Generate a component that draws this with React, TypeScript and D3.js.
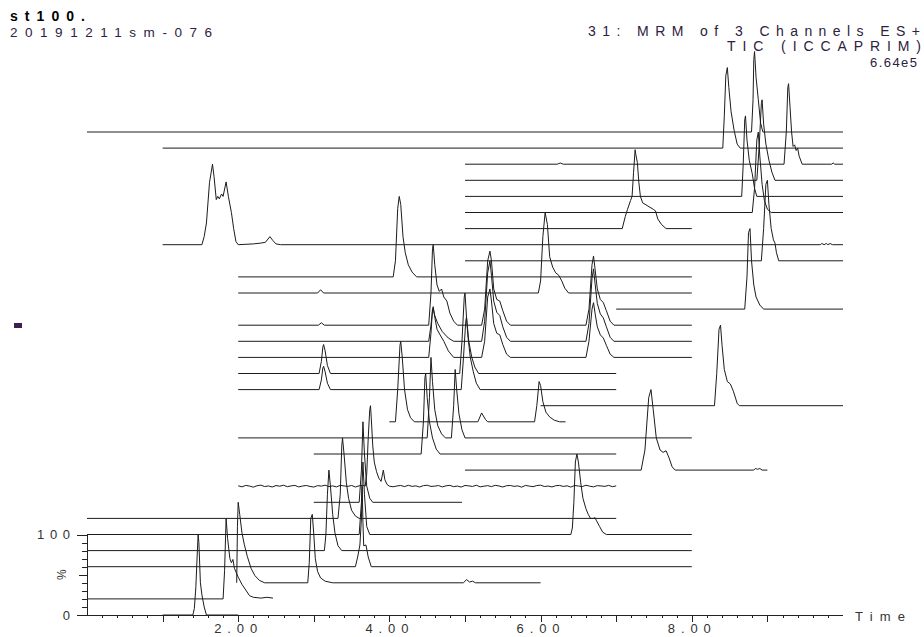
import React from "react";
import * as d3 from "d3";

type Pt = [number, number];

// Plot frame (time in minutes, intensity in %)
const timeDomain: [number, number] = [0, 10];
const channelStep = 20; // each stacked channel sits 20 % above the previous one
const timeLabels = [2, 4, 6, 8];
const yLabels: [number, string][] = [[0, "0"], [100, "100"]];

// Channel traces, bottom (0) to top (30): [time, % of channel maximum]
const tr00: Pt[] = [[1.0, 0], [1.40, 0], [1.42, 8], [1.44, 35], [1.46, 80], [1.47, 100], [1.48, 90], [1.50, 40], [1.52, 25], [1.55, 10], [1.58, 0], [2.0, 0]];
const tr01: Pt[] = [[0, 0], [1.80, 0], [1.82, 35], [1.84, 100], [1.86, 75], [1.89, 50], [1.91, 45], [1.93, 49], [1.95, 38], [2.0, 27], [2.05, 18], [2.1, 11], [2.15, 4], [2.2, 2], [2.3, 1], [2.38, 2], [2.46, 1]];
const tr02: Pt[] = [[1.98, 0], [1.99, 70], [2.0, 100], [2.02, 85], [2.05, 62], [2.08, 48], [2.12, 33], [2.17, 18], [2.22, 9], [2.28, 3], [2.35, 0], [2.92, 0], [2.94, 25], [2.96, 80], [2.98, 85], [3.0, 60], [3.02, 30], [3.05, 14], [3.09, 6], [3.15, 2], [3.25, 0], [4.98, 0], [5.02, 4], [5.06, 1], [5.1, 2], [5.14, 0], [6.0, 0]];
const tr03: Pt[] = [[0, 0], [3.55, 0], [3.58, 12], [3.61, 27], [3.63, 60], [3.64, 100], [3.65, 55], [3.66, 26], [3.69, 27], [3.72, 12], [3.76, 0], [8.0, 0]];
const tr04: Pt[] = [[0, 0], [3.14, 0], [3.16, 20], [3.18, 70], [3.20, 100], [3.22, 80], [3.25, 45], [3.28, 22], [3.32, 6], [3.37, 0], [8.0, 0]];
const tr05: Pt[] = [[0, 0], [3.60, 0], [3.63, 40], [3.65, 90], [3.67, 50], [3.70, 10], [3.74, 0], [6.40, 0], [6.42, 8], [6.44, 40], [6.46, 90], [6.48, 100], [6.50, 90], [6.53, 65], [6.56, 45], [6.60, 32], [6.63, 25], [6.66, 20], [6.70, 20], [6.72, 21], [6.74, 17], [6.78, 10], [6.82, 3], [6.87, 0], [8.0, 0]];
const tr06: Pt[] = [[0, 0], [3.32, 0], [3.35, 30], [3.37, 90], [3.38, 100], [3.40, 80], [3.43, 45], [3.46, 25], [3.50, 10], [3.55, 3], [3.60, 0], [7.0, 0]];
const tr07: Pt[] = [[3.0, 0], [3.60, 0], [3.63, 40], [3.65, 100], [3.67, 60], [3.70, 20], [3.74, 5], [3.78, 0], [4.96, 0]];
const noise08: number[] = [0.5, -0.8, 1.0, 0.2, -1.2, 0.6, 1.3, -0.4, 0.3, -1.0, 0.8, 0.0, 1.2, -0.6, 0.4, 1.0, -0.9, 0.2, 0.9, -0.3, -1.1, 0.7, 0.1, 1.3, -0.5, 0.4, -0.9, 1.1, 0.3, -0.2, 0.9, -1.0, 0.5, 1.2, -0.4, 0.0, 0.8, -1.2, 0.6, 0.2, 1.0, -0.7, 0.3, 0.9, -0.5, 1.1, -0.2, 0.4, -1.0, 0.7, 1.2, -0.3, 0.1, 0.8, -0.9, 0.5, 1.0, -0.6, 0.2, -1.1, 0.9, 0.4, -0.3, 1.2, -0.8, 0.0, 0.7, -0.5, 1.1, 0.3, -1.0, 0.6, 0.9, -0.2, 0.4, -1.2, 1.0, 0.1, -0.6, 0.8, 1.3, -0.4, 0.2, -0.9, 0.6, 1.0, -0.3, 0.5, -1.1, 0.9, 0.2, -0.5, 1.2, 0.0, -0.8, 0.7, 0.3, -0.2, 1.0, -0.6, 0.4];
const peak08: Pt[] = [[3.68, 0], [3.70, 15], [3.72, 60], [3.74, 95], [3.75, 100], [3.76, 85], [3.78, 50], [3.80, 30], [3.83, 18], [3.86, 10], [3.89, 6], [3.92, 20], [3.94, 8], [3.97, 2], [4.0, 0]];
const tr09: Pt[] = [[5.0, 0], [7.33, 0], [7.38, 25], [7.43, 90], [7.46, 100], [7.49, 75], [7.53, 40], [7.58, 25], [7.62, 22], [7.66, 24], [7.70, 15], [7.74, 4], [7.78, 0], [8.82, 0], [8.84, 2], [8.87, 1], [8.9, 2], [8.93, 0], [9.0, 0]];
const tr10: Pt[] = [[3.0, 0], [4.42, 0], [4.45, 40], [4.47, 95], [4.48, 100], [4.50, 70], [4.53, 40], [4.57, 20], [4.62, 6], [4.67, 0], [7.0, 0]];
const tr11: Pt[] = [[2.0, 0], [4.50, 0], [4.53, 50], [4.55, 100], [4.57, 70], [4.60, 35], [4.64, 15], [4.69, 5], [4.74, 0], [4.82, 0], [4.85, 40], [4.87, 85], [4.89, 60], [4.92, 30], [4.96, 10], [5.0, 0], [8.0, 0]];
const tr12: Pt[] = [[4.0, 0], [4.08, 0], [4.11, 40], [4.14, 95], [4.15, 100], [4.17, 80], [4.20, 40], [4.24, 15], [4.28, 5], [4.33, 0], [5.17, 0], [5.22, 11], [5.27, 3], [5.30, 0], [5.92, 0], [5.95, 20], [5.98, 50], [6.0, 45], [6.03, 25], [6.07, 12], [6.12, 6], [6.18, 2], [6.25, 0], [6.33, 0]];
const tr13: Pt[] = [[6.0, 0], [8.30, 0], [8.33, 40], [8.36, 95], [8.38, 100], [8.40, 75], [8.43, 45], [8.47, 30], [8.51, 27], [8.55, 18], [8.60, 3], [8.63, 0], [10, 0]];
const tr14: Pt[] = [[2.0, 0], [3.07, 0], [3.10, 12], [3.12, 27], [3.13, 29], [3.15, 22], [3.18, 8], [3.22, 0], [4.95, 0], [4.98, 40], [5.01, 85], [5.02, 90], [5.04, 65], [5.07, 40], [5.11, 22], [5.15, 8], [5.20, 0], [7.0, 0]];
const tr15: Pt[] = [[2.0, 0], [3.07, 0], [3.10, 15], [3.12, 33], [3.13, 36], [3.15, 28], [3.18, 10], [3.22, 0], [4.93, 0], [4.96, 40], [4.99, 95], [5.0, 100], [5.02, 70], [5.05, 40], [5.09, 20], [5.13, 8], [5.18, 0], [7.0, 0]];
const tr16: Pt[] = [[2.0, 0], [4.52, 0], [4.55, 30], [4.57, 60], [4.58, 63], [4.60, 50], [4.63, 35], [4.67, 28], [4.72, 20], [4.78, 8], [4.85, 0], [5.22, 0], [5.26, 20], [5.30, 75], [5.33, 85], [5.35, 70], [5.38, 42], [5.42, 30], [5.46, 28], [5.50, 16], [5.55, 4], [5.60, 0], [6.60, 0], [6.64, 20], [6.68, 60], [6.70, 68], [6.72, 55], [6.75, 38], [6.79, 28], [6.83, 24], [6.87, 15], [6.92, 4], [6.97, 0], [8.0, 0]];
const tr17: Pt[] = [[2.0, 0], [4.52, 0], [4.55, 20], [4.57, 38], [4.58, 40], [4.60, 32], [4.64, 22], [4.70, 12], [4.78, 4], [4.85, 0], [5.22, 0], [5.26, 25], [5.30, 85], [5.33, 100], [5.35, 82], [5.38, 50], [5.42, 36], [5.46, 32], [5.50, 18], [5.55, 5], [5.60, 0], [6.60, 0], [6.64, 22], [6.68, 78], [6.70, 90], [6.72, 72], [6.75, 47], [6.79, 34], [6.83, 29], [6.87, 18], [6.92, 5], [6.97, 0], [8.0, 0]];
const tr18: Pt[] = [[2.0, 0], [3.06, 0], [3.10, 3], [3.14, 0], [4.52, 0], [4.55, 40], [4.57, 95], [4.58, 100], [4.60, 75], [4.63, 50], [4.66, 42], [4.69, 45], [4.72, 35], [4.76, 30], [4.80, 15], [4.85, 5], [4.90, 0], [5.22, 0], [5.26, 20], [5.30, 80], [5.33, 92], [5.35, 80], [5.38, 45], [5.42, 32], [5.46, 30], [5.50, 18], [5.55, 5], [5.60, 0], [6.60, 0], [6.64, 20], [6.68, 75], [6.70, 86], [6.72, 70], [6.75, 45], [6.79, 32], [6.83, 28], [6.87, 18], [6.92, 5], [6.97, 0], [8.0, 0]];
const tr19: Pt[] = [[7.0, 0], [8.70, 0], [8.73, 40], [8.75, 95], [8.77, 100], [8.79, 60], [8.82, 30], [8.85, 15], [8.90, 5], [8.95, 0], [10, 0]];
const tr20: Pt[] = [[2.0, 0], [3.05, 0], [3.09, 4], [3.13, 0], [5.97, 0], [6.0, 15], [6.03, 70], [6.06, 100], [6.09, 85], [6.12, 45], [6.16, 32], [6.20, 25], [6.24, 22], [6.28, 15], [6.32, 6], [6.37, 0], [8.0, 0]];
const tr21: Pt[] = [[2.0, 0], [4.05, 0], [4.08, 20], [4.11, 85], [4.13, 100], [4.15, 90], [4.18, 50], [4.21, 30], [4.25, 15], [4.30, 6], [4.36, 0], [8.0, 0]];
const tr22: Pt[] = [[5.0, 0], [8.92, 0], [8.95, 40], [8.98, 95], [9.0, 100], [9.02, 70], [9.05, 40], [9.08, 26], [9.10, 22], [9.12, 10], [9.15, 0], [10, 0]];
const tr23: Pt[] = [[1.0, 0], [1.52, 0], [1.55, 10], [1.58, 27], [1.62, 77], [1.66, 100], [1.68, 85], [1.71, 56], [1.73, 60], [1.75, 57], [1.78, 63], [1.80, 60], [1.84, 78], [1.87, 60], [1.91, 40], [1.94, 20], [1.97, 4], [2.0, 0], [2.2, 1], [2.3, 2], [2.36, 3], [2.42, 10], [2.46, 5], [2.5, 1], [2.56, 0], [9.70, 0], [9.72, 1.5], [9.75, 0], [9.78, 1.5], [9.80, 0], [9.83, 1.5], [9.86, 0], [10, 0]];
const tr24: Pt[] = [[5.0, 0], [7.08, 0], [7.12, 15], [7.15, 24], [7.19, 35], [7.21, 40], [7.23, 70], [7.25, 98], [7.26, 92], [7.28, 82], [7.30, 57], [7.32, 40], [7.35, 32], [7.42, 28], [7.49, 24], [7.52, 22], [7.55, 12], [7.60, 5], [7.66, 0], [8.0, 0]];
const tr25: Pt[] = [[5.0, 0], [8.80, 0], [8.83, 30], [8.86, 90], [8.88, 100], [8.90, 70], [8.93, 35], [8.96, 15], [9.0, 4], [9.05, 0], [10, 0]];
const tr26: Pt[] = [[5.0, 0], [8.66, 0], [8.68, 40], [8.70, 95], [8.71, 100], [8.73, 70], [8.76, 45], [8.80, 28], [8.83, 10], [8.86, 0], [10, 0]];
const tr27: Pt[] = [[5.0, 0], [8.86, 0], [8.89, 40], [8.92, 95], [8.93, 100], [8.95, 70], [8.98, 45], [9.02, 25], [9.06, 10], [9.10, 0], [10, 0]];
const tr28: Pt[] = [[5.0, 0], [6.22, 0], [6.26, 1.5], [6.30, 0], [9.22, 0], [9.25, 40], [9.27, 95], [9.28, 100], [9.30, 70], [9.32, 40], [9.34, 22], [9.36, 24], [9.38, 17], [9.40, 20], [9.42, 10], [9.46, 0], [9.85, 0], [9.87, 1.5], [9.89, 0], [10, 0]];
const tr29: Pt[] = [[1.0, 0], [8.41, 0], [8.43, 40], [8.45, 90], [8.47, 100], [8.49, 75], [8.52, 45], [8.56, 22], [8.60, 5], [8.64, 0], [10, 0]];
const tr30: Pt[] = [[0, 0], [8.79, 0], [8.81, 40], [8.82, 90], [8.83, 100], [8.85, 68], [8.88, 40], [8.91, 11], [8.94, 0], [10, 0]];

// Channel 8 carries a visible noise floor sampled every 0.05 min from 2.00 min
const tr08: Pt[] = [
  ...noise08
    .map((v, i): Pt => [2 + i * 0.05, v])
    .filter(([t]) => t <= 7.0001 && (t < 3.66 || t > 4.01)),
  ...peak08,
].sort((a, b) => a[0] - b[0]);

const traces: Pt[][] = [
  tr00, tr01, tr02, tr03, tr04, tr05, tr06, tr07, tr08, tr09,
  tr10, tr11, tr12, tr13, tr14, tr15, tr16, tr17, tr18, tr19,
  tr20, tr21, tr22, tr23, tr24, tr25, tr26, tr27, tr28, tr29, tr30,
];

const FONT = "'Liberation Sans', Arial, sans-serif";
const HEAD = "#2e2140";

export default function App() {
  const left = 87;
  const right = 843;
  const base = 615;
  const fullScale = 80.5;

  const x = d3.scaleLinear().domain(timeDomain).range([left, right]);
  const y = d3.scaleLinear().domain([0, 100]).range([base, base - fullScale]);
  const line = d3
    .line<Pt>()
    .x((d) => x(d[0]))
    .y((d) => y(d[1]));

  const minorTicks = d3.range(1, 50).map((i) => i * 0.2);
  const yTicks = d3.range(0, 101, 10);

  return (
    <svg
      width={924}
      height={637}
      style={{ position: "absolute", left: 0, top: 0, background: "#fff" }}
      fontFamily={FONT}
    >
      <rect width={924} height={637} fill="#fff" />

      {/* header */}
      <text x={10} y={21} fontSize={14} fontWeight="bold" fill="#000" textLength={75} lengthAdjust="spacing">
        st100.
      </text>
      <text x={10} y={37} fontSize={13.5} fill={HEAD} textLength={202} lengthAdjust="spacing">
        20191211sm-076
      </text>
      <text x={920} y={36} fontSize={14} fill={HEAD} textAnchor="end" textLength={332} lengthAdjust="spacing">
        31: MRM of 3 Channels ES+
      </text>
      <text x={921} y={51} fontSize={14} fill={HEAD} textAnchor="end" textLength={194} lengthAdjust="spacing">
        TIC (ICCAPRIM)
      </text>
      <text x={917} y={67} fontSize={13} fill={HEAD} textAnchor="end" textLength={47} lengthAdjust="spacing">
        6.64e5
      </text>

      {/* side marker */}
      <rect x={14} y={323} width={8} height={5} fill="#3b1f4f" />

      {/* stacked channel traces */}
      <g fill="none" stroke="#1c1c1c" strokeWidth={1} strokeLinejoin="round">
        {traces.map((tr, k) => (
          <path key={k} d={line(tr.map(([t, v]): Pt => [t, v + k * channelStep])) ?? ""} />
        ))}
      </g>

      {/* x axis */}
      <g stroke="#222" strokeWidth={1} shapeRendering="crispEdges">
        <line x1={left} x2={right} y1={base + 0.5} y2={base + 0.5} />
        {minorTicks.map((t, i) => {
          const major = Math.abs(t - Math.round(t)) < 1e-6;
          const px = Math.round(x(t)) + 0.5;
          return <line key={i} x1={px} x2={px} y1={base} y2={base + (major ? 7 : 3)} />;
        })}
      </g>
      {timeLabels.map((t) => (
        <text
          key={t}
          x={x(t) - 2.5}
          y={633}
          fontSize={13}
          fill="#333"
          textAnchor="middle"
          textLength={43}
          lengthAdjust="spacing"
        >
          {t.toFixed(2)}
        </text>
      ))}
      <text x={855} y={621} fontSize={13} fill="#333" textLength={50} lengthAdjust="spacing">
        Time
      </text>

      {/* y axis */}
      <g stroke="#222" strokeWidth={1} shapeRendering="crispEdges">
        <line x1={left + 0.5} x2={left + 0.5} y1={y(100)} y2={base + 1} />
        {yTicks.map((v) => {
          const len = v === 0 || v === 100 ? 10 : v === 50 ? 8 : 5;
          const py = Math.round(y(v)) + 0.5;
          return <line key={v} x1={left - len} x2={left} y1={py} y2={py} />;
        })}
      </g>
      {yLabels.map(([v, label]) => (
        <text
          key={v}
          x={70}
          y={y(v) + 4.5}
          fontSize={13}
          fill="#333"
          textAnchor="end"
          textLength={label.length > 1 ? 33 : 7}
          lengthAdjust="spacing"
        >
          {label}
        </text>
      ))}
      <text
        x={0}
        y={0}
        fontSize={12}
        fill="#333"
        textAnchor="middle"
        transform={`translate(66, ${y(50)}) rotate(-90)`}
      >
        %
      </text>
    </svg>
  );
}
